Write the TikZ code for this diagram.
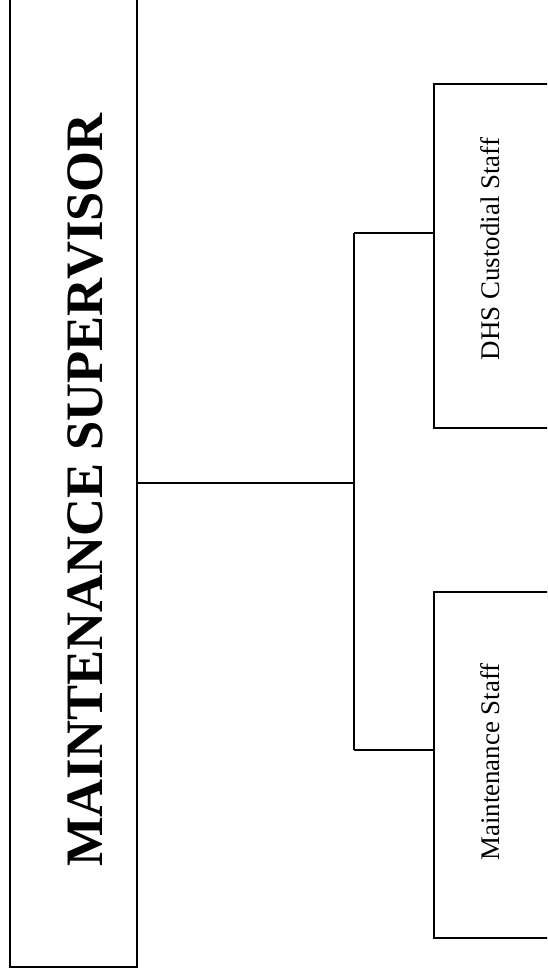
\documentclass[tikz,border=0pt]{standalone}
\usepackage{fontspec}
\setmainfont{Liberation Serif}
\usetikzlibrary{positioning}
\tikzset{
  chartbox/.style={draw,line width=2pt,inner sep=0pt,outer sep=0pt},
  staffbox/.style={chartbox,minimum width=130pt,minimum height=344pt},
  stafflabel/.style={rotate=90,font=\fontsize{26.9}{30}\selectfont},
  link/.style={line width=1.8pt}
}

\begin{document}
\begin{tikzpicture}[x=1pt,y=-1pt]
\useasboundingbox (0,0) rectangle (547,975);
\clip (0,0) rectangle (547,975);
\node[chartbox,minimum width=127pt,minimum height=987pt] (sup) at (73.5,473.5) {};
\node[rotate=90,font=\fontsize{52.6}{60}\selectfont\bfseries] (suptitle) at (85,490) {MAINTENANCE SUPERVISOR};
\node[staffbox] (cust) at (499,256) {};
\node[stafflabel] (custlabel) at (490,249) {DHS Custodial Staff};
\node[staffbox,minimum height=346pt] (maint) at (499,765) {};
\node[stafflabel] (maintlabel) at (490,762) {Maintenance Staff};
\coordinate (hub) at (354,483);
\coordinate (up) at (354,233);
\coordinate (down) at (354,750);
\draw[link] (sup.east |- hub) -- (hub);
\draw[link] (up) -- (down);
\draw[link] (up) -- (up -| cust.west);
\draw[link] (down) -- (down -| maint.west);
\end{tikzpicture}
\end{document}
